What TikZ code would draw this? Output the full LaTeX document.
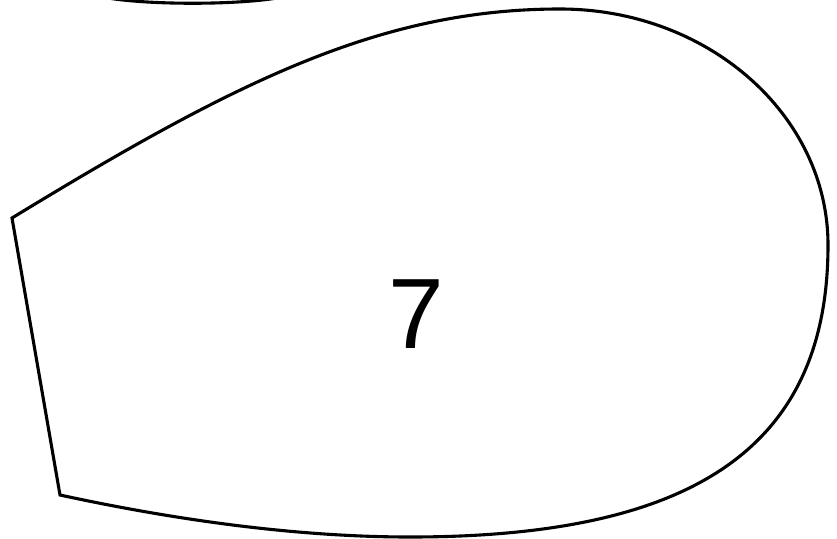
\documentclass[tikz,border=0pt]{standalone}
\usepackage{fontspec}
\setmainfont{Liberation Sans}
\begin{document}
\begin{tikzpicture}[x=1pt,y=-1pt,
  outline/.style={draw=black,line width=3.1pt,line join=miter,fill=white}]
\useasboundingbox (0,0) rectangle (837,538);
\fill[white] (0,0) rectangle (837,538);
% fragment of neighbouring shape at top
\draw[line width=3.1pt] (108,-2) .. controls (150,5) and (235,5) .. (277,-2);
% main shape
\coordinate (A) at (12,218);
\coordinate (P) at (560,9);
\coordinate (R) at (828,245);
\coordinate (B) at (410,537);
\coordinate (C) at (60,495);
\draw[outline] (A) .. controls (235,82) and (380,9) .. (P)
  .. controls (708,9) and (828,115) .. (R)
  .. controls (828,450) and (690,537) .. (B)
  .. controls (300,537) and (180,521) .. (C) -- cycle;
\node (label) at (416,314) {\fontsize{100}{100}\selectfont 7};
\end{tikzpicture}
\end{document}
